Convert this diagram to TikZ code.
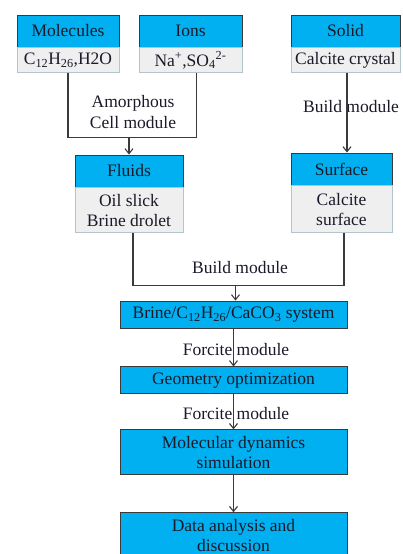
\documentclass[tikz,border=0pt]{standalone}
\usepackage{fontspec}
\setmainfont{Liberation Serif}
\usetikzlibrary{arrows.meta,positioning,calc}
\definecolor{fcHead}{HTML}{00B0F0}
\definecolor{fcBody}{HTML}{EFEFEF}
\definecolor{fcEdge}{HTML}{B2C4CC}
\definecolor{fcLine}{HTML}{3A3A3A}
\definecolor{fcText}{HTML}{1A1A2A}
\tikzset{
  fcnode/.style={inner sep=0pt, align=center, text=fcText,
    font=\fontsize{17.5}{20.5}\selectfont},
  head/.style={fcnode, draw=fcLine, fill=fcHead, minimum height=32pt, line width=0.9pt},
  body/.style={fcnode, draw=fcEdge, fill=fcBody, line width=0.9pt},
  stage/.style={fcnode, draw=fcLine, fill=fcHead, minimum width=227pt, line width=0.9pt},
  tag/.style={fcnode},
  link/.style={draw=fcLine, line width=1.1pt},
  flow/.style={link, -{Straight Barb[length=5pt,width=8pt]}}
}

\begin{document}
\begin{tikzpicture}[x=1pt, y=-1pt]
  \useasboundingbox (0,0) rectangle (403,554);
  \clip (0,0) rectangle (403,554);

  % input boxes
  \node[head, minimum width=102pt] (molhead) at (68,31) {Molecules};
  \node[body, minimum width=102pt, minimum height=25pt, below=0pt of molhead] (molbody) {C\textsubscript{12}H\textsubscript{26},H2O};
  \node[head, minimum width=103pt] (ionhead) at (190.5,31) {Ions};
  \node[body, minimum width=103pt, minimum height=25pt, below=0pt of ionhead] (ionbody) {Na\textsuperscript{+},SO\textsubscript{4}\textsuperscript{2-}};
  \node[head, minimum width=109pt] (solidhead) at (345.5,31) {Solid};
  \node[body, minimum width=109pt, minimum height=25pt, below=0pt of solidhead] (solidbody) {Calcite crystal};

  % built models
  \node[head, minimum width=108pt] (fluidhead) at (129,171) {Fluids};
  \node[body, minimum width=108pt, minimum height=45pt, below=0pt of fluidhead] (fluidbody) {Oil slick\\Brine drolet};
  \node[head, minimum width=101pt] (surfhead) at (341.5,169) {Surface};
  \node[body, minimum width=101pt, minimum height=47pt, below=0pt of surfhead] (surfbody) {Calcite\\surface};

  % simulation chain
  \node[stage, minimum height=27pt] (sys) at (233.5,314.5) {Brine/C\textsubscript{12}H\textsubscript{26}/CaCO\textsubscript{3} system};
  \node[stage, minimum height=27pt, below=38pt of sys] (geo) {Geometry optimization};
  \node[stage, minimum height=45pt, below=35pt of geo] (md) {Molecular dynamics\\simulation};
  \node[stage, minimum height=46pt, below=37pt of md] (data) {Data analysis and\\discussion};

  % module labels
  \node[tag] (amlabel) at (133,112) {Amorphous\\Cell module};
  \node[tag] (build1) at (351,107) {Build module};
  \node[tag] (build2) at (240,268) {Build module};
  \node[tag] (force1) at (236,350) {Forcite module};
  \node[tag] (force2) at (236,414) {Forcite module};

  % connectors
  \draw[link] (molbody.south) -- ++(0,64) coordinate (amjoin) -| ([xshift=6pt]ionbody.south);
  \draw[flow] (amjoin -| fluidhead.north) -- (fluidhead.north);
  \draw[flow] ([xshift=1.5pt]solidbody.south) -- ([xshift=1.5pt]solidbody.south |- surfhead.north);
  \draw[link] ([xshift=4pt]fluidbody.south) -- ++(0,52) coordinate (bjoin) -| ([xshift=2.5pt]surfbody.south);
  \draw[flow] ([xshift=2pt]bjoin -| sys.north) -- ([xshift=2pt]sys.north);
  \draw[flow] (sys.south) -- (geo.north);
  \draw[flow] (geo.south) -- (md.north);
  \draw[flow] (md.south) -- (data.north);
\end{tikzpicture}
\end{document}
